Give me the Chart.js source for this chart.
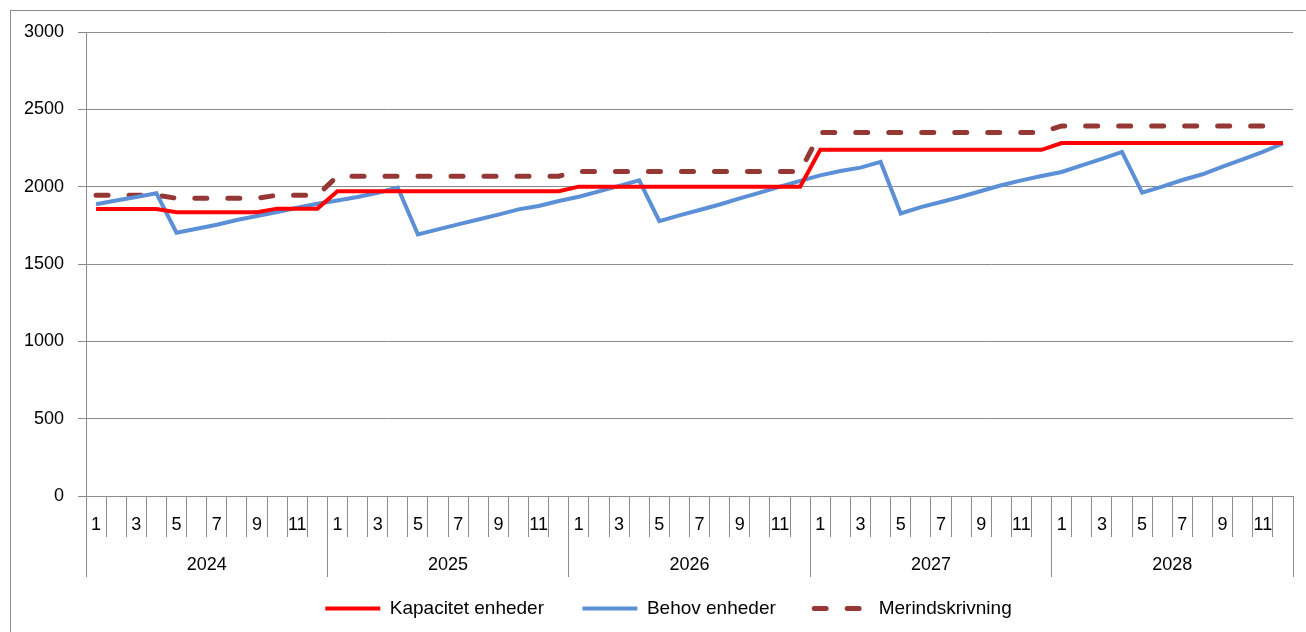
<!DOCTYPE html>
<html>
<head>
<meta charset="utf-8">
<script src="https://cdn.jsdelivr.net/npm/chart.js@4"></script>
<style>
html, body { margin: 0; padding: 0; background: #fff; overflow: hidden; }
#wrap { position: relative; width: 1306px; height: 632px; overflow: hidden; }
#frame { position: absolute; left: 10px; top: 10px; width: 1320px; height: 650px; border: 1px solid #8c8c8c; }
canvas { position: absolute; left: 0; top: 0; }
</style>
</head>
<body>
<div id="wrap">
  <div id="frame"></div>
  <canvas id="chart" width="1306" height="632"></canvas>
</div>
<script>
// data
const years = ['2024', '2025', '2026', '2027', '2028'];
const months = ['1', '2', '3', '4', '5', '6', '7', '8', '9', '10', '11', '12'];

const kapacitet = [
  1855, 1855, 1855, 1855, 1834, 1834, 1834, 1834, 1834, 1858, 1858, 1858,
  1970, 1970, 1970, 1970, 1970, 1970, 1970, 1970, 1970, 1970, 1970, 1970,
  2000, 2000, 2000, 2000, 2000, 2000, 2000, 2000, 2000, 2000, 2000, 2000,
  2238, 2238, 2238, 2238, 2238, 2238, 2238, 2238, 2238, 2238, 2238, 2238,
  2282, 2282, 2282, 2282, 2282, 2282, 2282, 2282, 2282, 2282, 2282, 2282
];

const behov = [
  1886, 1910, 1933, 1957, 1702, 1728, 1754, 1784, 1810, 1836, 1864, 1890,
  1911, 1933, 1961, 1994, 1691, 1724, 1756, 1788, 1819, 1853, 1875, 1907,
  1935, 1970, 2005, 2041, 1777, 1814, 1849, 1885, 1924, 1961, 2000, 2037,
  2073, 2101, 2123, 2160, 1827, 1868, 1901, 1935, 1972, 2009, 2041, 2069,
  2095, 2138, 2180, 2225, 1961, 2000, 2043, 2080, 2130, 2177, 2225, 2279
];

const merindskrivning = [
  1945, 1945, 1945, 1945, 1925, 1925, 1925, 1925, 1925, 1945, 1945, 1945,
  2068, 2068, 2068, 2068, 2068, 2068, 2068, 2068, 2068, 2068, 2068, 2068,
  2098, 2098, 2098, 2098, 2098, 2098, 2098, 2098, 2098, 2098, 2098, 2098,
  2350, 2350, 2350, 2350, 2350, 2350, 2350, 2350, 2350, 2350, 2350, 2350,
  2393, 2393, 2393, 2393, 2393, 2393, 2393, 2393, 2393, 2393, 2393, 2393
];

const labels = years.flatMap(() => months);

const gridColor = '#8c8c8c';
const font = { family: "'Liberation Sans', Arial, sans-serif", size: 18 };
const legendFont = { family: "'Liberation Sans', Arial, sans-serif", size: 19 };

// nudge the legend so it sits under the middle of the plot like the original
const legendShift = {
  id: 'legendShift',
  afterLayout(chart) {
    chart.legend.left += 22;
    chart.legend.right += 22;
  }
};

new Chart(document.getElementById('chart'), {
  type: 'line',
  data: {
    labels: labels,
    datasets: [
      {
        label: 'Kapacitet enheder',
        data: kapacitet,
        borderColor: '#ff0000',
        backgroundColor: '#ff0000',
        borderWidth: 4,
        pointRadius: 0,
        tension: 0
      },
      {
        label: 'Behov enheder',
        data: behov,
        borderColor: '#5b8fd6',
        backgroundColor: '#5b8fd6',
        borderWidth: 4,
        pointRadius: 0,
        tension: 0
      },
      {
        label: 'Merindskrivning',
        data: merindskrivning,
        borderColor: '#953735',
        backgroundColor: '#953735',
        borderWidth: 5,
        borderDash: [12, 21],
        borderCapStyle: 'round',
        pointRadius: 0,
        tension: 0
      }
    ]
  },
  plugins: [legendShift],
  options: {
    responsive: false,
    animation: false,
    events: [],
    layout: { padding: { top: 32, right: 13, left: 0, bottom: 4 } },
    plugins: {
      tooltip: { enabled: false },
      legend: {
        position: 'bottom',
        labels: {
          usePointStyle: true,
          pointStyle: 'line',
          pointStyleWidth: 55,
          font: legendFont,
          color: '#000',
          padding: 12,
          // point-style items lose the dataset dash, so put it back;
          // trailing spaces widen the gap between items
          generateLabels: (chart) => {
            const items = Chart.defaults.plugins.legend.labels.generateLabels(chart);
            items.forEach((item, i) => {
              const ds = chart.data.datasets[item.datasetIndex];
              item.lineDash = ds.borderDash || [];
              item.lineCap = ds.borderCapStyle || 'butt';
              item.lineWidth = ds.borderWidth;
              if (i < items.length - 1) item.text += '     ';
            });
            return items;
          }
        }
      }
    },
    scales: {
      x: {
        type: 'category',
        offset: true,
        grid: { offset: true, drawOnChartArea: false, tickLength: 41, color: gridColor },
        border: { color: gridColor },
        ticks: {
          autoSkip: false,
          maxRotation: 0,
          padding: -23,
          font: font,
          color: '#000',
          callback: (value, index) => (index % 2 === 0 ? months[index % 12] : '')
        },
        afterFit: (scale) => { scale.height = 41; }
      },
      x2: {
        type: 'category',
        labels: years,
        position: 'bottom',
        weight: 1,
        offset: true,
        grid: { offset: true, drawOnChartArea: false, tickLength: 40, color: gridColor },
        border: { display: false },
        ticks: { maxRotation: 0, padding: -23, font: font, color: '#000' },
        afterFit: (scale) => { scale.height = 50; }
      },
      y: {
        min: 0,
        max: 3000,
        ticks: { stepSize: 500, padding: 14, font: font, color: '#000', callback: (v) => String(v) },
        grid: { color: gridColor, tickLength: 8 },
        border: { color: gridColor },
        afterFit: (scale) => { scale.width = 86; }
      }
    }
  }
});
</script>
</body>
</html>
